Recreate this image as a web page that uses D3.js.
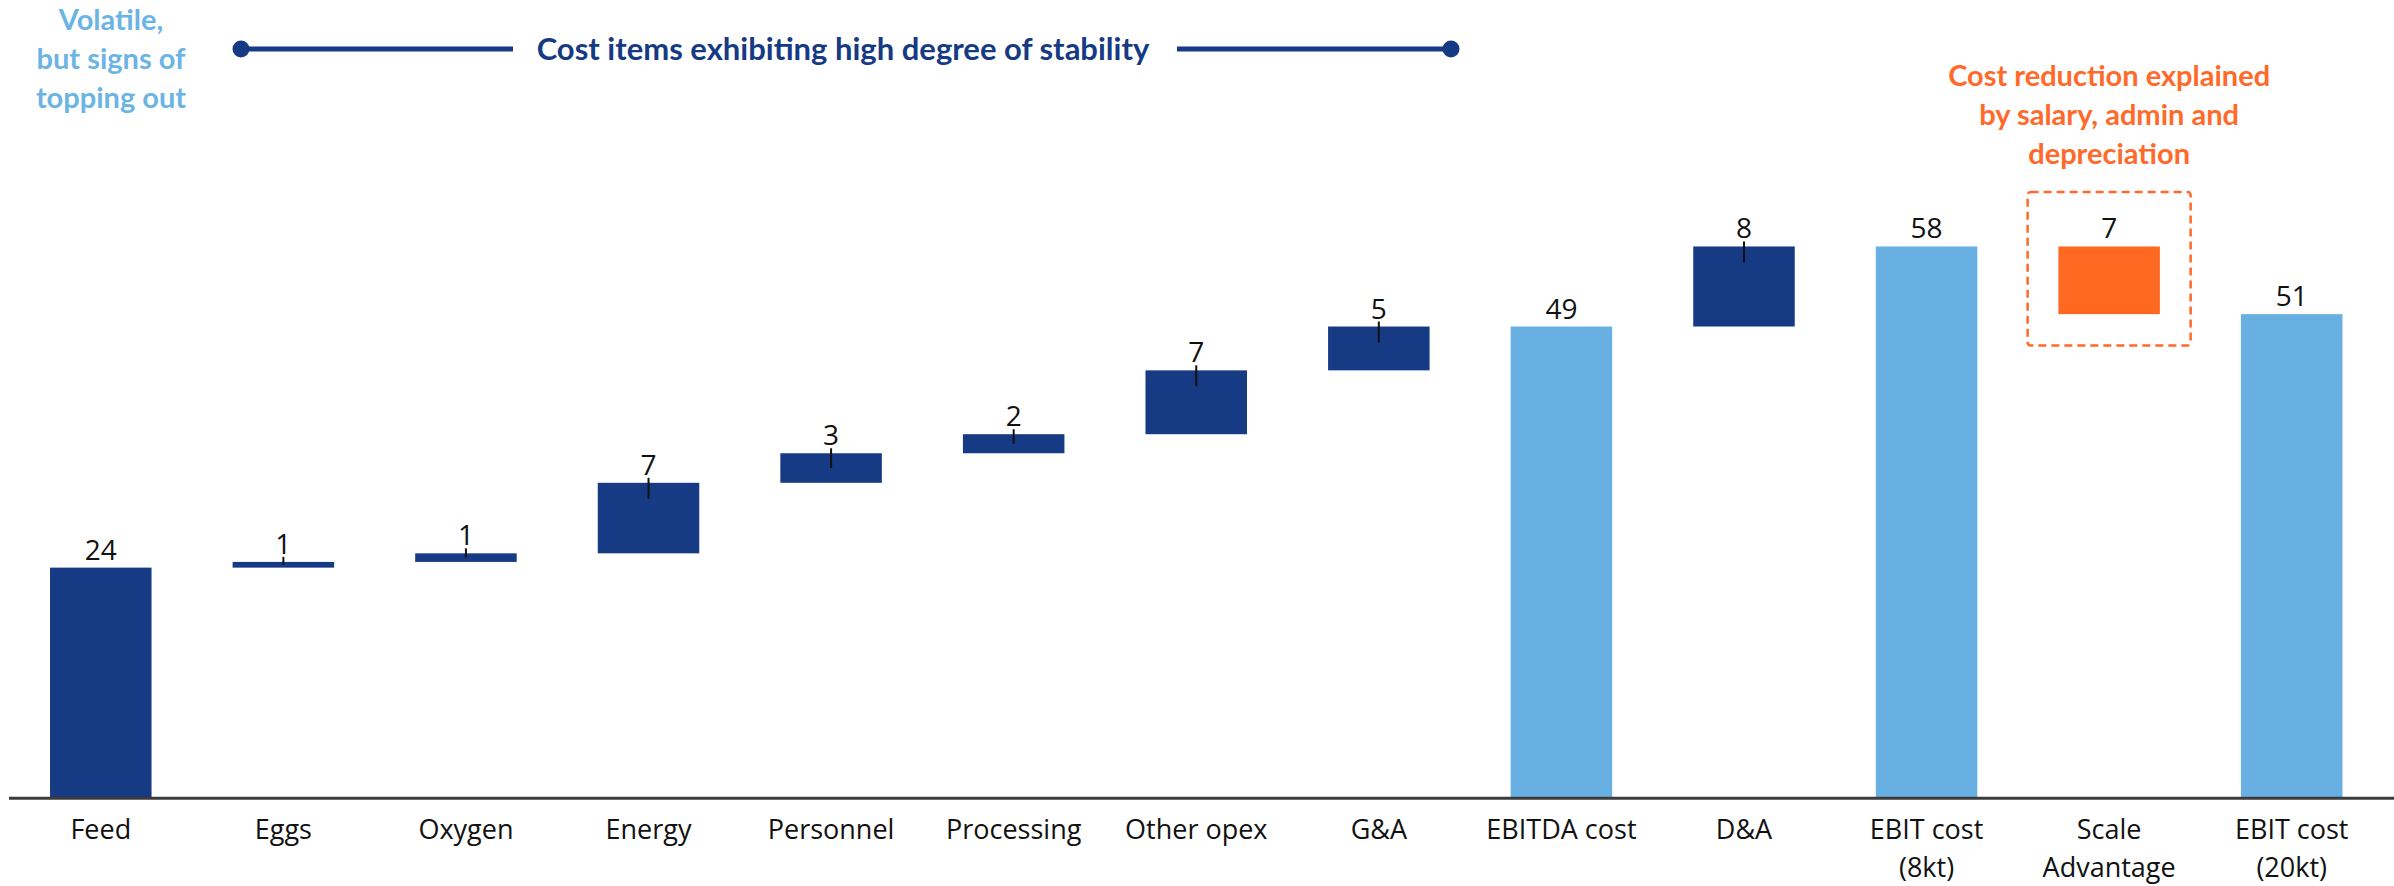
<!DOCTYPE html>
<html>
<head>
<meta charset="utf-8">
<script src="https://cdn.jsdelivr.net/npm/d3@7"></script>
<style>
  html, body { margin: 0; padding: 0; background: #ffffff; }
  svg { display: block; }
</style>
</head>
<body>
<svg id="chart" width="2394" height="886"></svg>
<script>
// Cost build-up per kg (waterfall)
const categories = ["Feed", "Eggs", "Oxygen", "Energy", "Personnel", "Processing", "Other opex",
  "G&A", "EBITDA cost", "D&A", "EBIT cost\n(8kt)", "Scale\nAdvantage", "EBIT cost\n(20kt)"];
// change contributed by each item; subtotals are computed from the running sum
const deltas = [24.1, 0.6, 0.9, 7.4, 3.1, 2.0, 6.7, 4.6, null, 8.4, null, -7.1, null];
const kinds = ["start", "step", "step", "step", "step", "step", "step",
  "step", "subtotal", "step", "subtotal", "reduction", "subtotal"];

const volatileNote = ["Volatile,", "but signs of", "topping out"];
const stableNote = "Cost items exhibiting high degree of stability";
const reductionNote = ["Cost reduction explained", "by salary, admin and", "depreciation"];

const colors = { start: "#163a84", step: "#163a84", subtotal: "#67b0e1", reduction: "#ff6820" };
const navy = "#163a84", sky = "#6cb4e4", orange = "#ff6a2a";

// running totals -> bar extents
let cum = 0;
const bars = categories.map((c, i) => {
  const k = kinds[i];
  let lo, hi, value;
  if (k === "start") { lo = 0; hi = deltas[i]; cum = hi; value = deltas[i]; }
  else if (k === "step") { lo = cum; hi = cum + deltas[i]; cum = hi; value = deltas[i]; }
  else if (k === "reduction") { hi = cum; lo = cum + deltas[i]; cum = lo; value = -deltas[i]; }
  else { lo = 0; hi = cum; value = cum; }
  return { cat: c, kind: k, lo, hi, value };
});

const svg = d3.select("#chart");
const baseY = 797.3;

const x = d3.scaleBand()
  .domain(categories)
  .range([9.5, 2383])
  .paddingInner(0.444)
  .paddingOuter(0.222);

const y = d3.scaleLinear()
  .domain([0, 60])
  .range([baseY, baseY - 60 * 9.53]);

const fmt = d3.format(".0f");

// bars
svg.append("g").selectAll("rect")
  .data(bars)
  .join("rect")
  .attr("x", d => x(d.cat))
  .attr("width", x.bandwidth())
  .attr("y", d => y(d.hi))
  .attr("height", d => y(d.lo) - y(d.hi))
  .attr("fill", d => colors[d.kind]);

// small connector ticks on the stacked items
svg.append("g").selectAll("line")
  .data(bars.filter(d => d.kind === "step"))
  .join("line")
  .attr("x1", d => x(d.cat) + x.bandwidth() / 2)
  .attr("x2", d => x(d.cat) + x.bandwidth() / 2)
  .attr("y1", d => y(d.hi) - 5)
  .attr("y2", d => Math.min(y(d.hi) + 16, (y(d.hi) + y(d.lo)) / 2))
  .attr("stroke", "#111")
  .attr("stroke-width", 2);

// value labels
svg.append("g").selectAll("text")
  .data(bars)
  .join("text")
  .attr("x", d => x(d.cat) + x.bandwidth() / 2)
  .attr("y", d => y(d.hi) - 8)
  .attr("text-anchor", "middle")
  .attr("font-family", "'Open Sans', sans-serif")
  .attr("font-size", 28)
  .attr("fill", "#111")
  .text(d => fmt(d.value));

// baseline axis with category labels
const xAxis = d3.axisBottom(x).tickSize(0).tickPadding(0);
const ax = svg.append("g")
  .attr("transform", `translate(0,${baseY + 1})`)
  .call(xAxis);
ax.select(".domain").remove();
ax.append("line")
  .attr("x1", 9).attr("x2", 2394)
  .attr("y1", 0).attr("y2", 0)
  .attr("stroke", "#3c3c3c")
  .attr("stroke-width", 3);
ax.selectAll(".tick text").each(function (d) {
  const t = d3.select(this);
  t.text(null)
    .attr("y", 0)
    .attr("dy", null)
    .attr("font-family", "'Open Sans', sans-serif")
    .attr("font-size", 27)
    .attr("fill", "#111");
  d.split("\n").forEach((line, i) => {
    t.append("tspan").attr("x", 0).attr("y", 41 + i * 38).text(line);
  });
});

// left annotation
svg.append("text")
  .attr("text-anchor", "middle")
  .attr("font-family", "Lato, sans-serif")
  .attr("font-weight", 700)
  .attr("font-size", 29)
  .attr("fill", sky)
  .selectAll("tspan")
  .data(volatileNote)
  .join("tspan")
  .attr("x", 111)
  .attr("y", (d, i) => 30 + i * 39)
  .text(d => d);

// stability bracket
const bracketY = 49;
const bracket = svg.append("g");
bracket.append("line").attr("x1", 241).attr("x2", 513).attr("y1", bracketY).attr("y2", bracketY)
  .attr("stroke", navy).attr("stroke-width", 5);
bracket.append("line").attr("x1", 1177).attr("x2", 1451).attr("y1", bracketY).attr("y2", bracketY)
  .attr("stroke", navy).attr("stroke-width", 5);
bracket.append("circle").attr("cx", 241).attr("cy", bracketY).attr("r", 8.5).attr("fill", navy);
bracket.append("circle").attr("cx", 1451).attr("cy", bracketY).attr("r", 8.5).attr("fill", navy);
bracket.append("text")
  .attr("x", 843).attr("y", bracketY + 11)
  .attr("text-anchor", "middle")
  .attr("font-family", "Lato, sans-serif")
  .attr("font-weight", 700)
  .attr("font-size", 31)
  .attr("fill", navy)
  .text(stableNote);

// highlight around the scale advantage
const sc = bars[11];
const cx = x(sc.cat) + x.bandwidth() / 2;
svg.append("rect")
  .attr("x", cx - 81.5).attr("width", 163)
  .attr("y", 192).attr("height", 153.5)
  .attr("rx", 3)
  .attr("fill", "none")
  .attr("stroke", orange)
  .attr("stroke-width", 2.5)
  .attr("stroke-dasharray", "8,5");

svg.append("text")
  .attr("text-anchor", "middle")
  .attr("font-family", "Lato, sans-serif")
  .attr("font-weight", 700)
  .attr("font-size", 29)
  .attr("fill", orange)
  .selectAll("tspan")
  .data(reductionNote)
  .join("tspan")
  .attr("x", cx)
  .attr("y", (d, i) => 86 + i * 39)
  .text(d => d);
</script>
</body>
</html>
